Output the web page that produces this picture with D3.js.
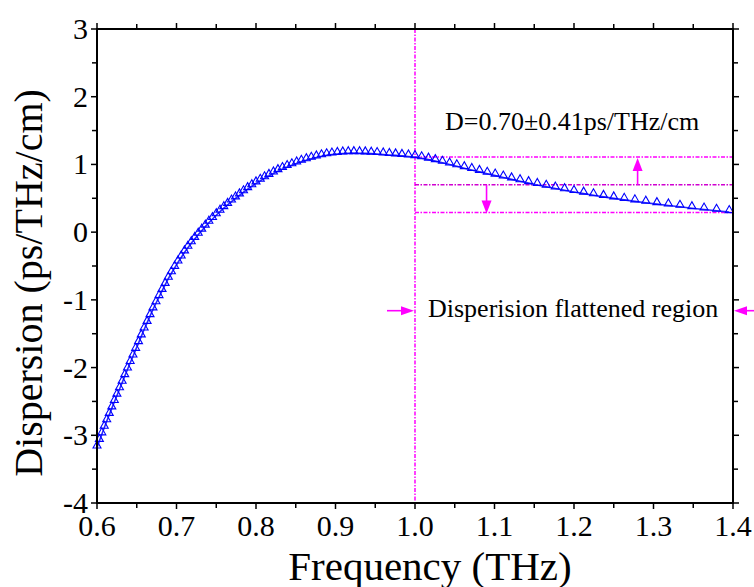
<!DOCTYPE html>
<html>
<head>
<meta charset="utf-8">
<script src="https://cdn.jsdelivr.net/npm/d3@7"></script>
<style>
  body { margin: 0; background: white; }
</style>
</head>
<body>
<script>
// frequency (THz) of every marker
let freq = [0.6000, 0.6030, 0.6061, 0.6091, 0.6122, 0.6154, 0.6186, 0.6218, 0.6250, 0.6283,
            0.6316, 0.6349, 0.6383, 0.6417, 0.6452, 0.6486, 0.6522, 0.6557, 0.6593, 0.6630,
            0.6667, 0.6704, 0.6742, 0.6780, 0.6818, 0.6857, 0.6897, 0.6936, 0.6977, 0.7018,
            0.7059, 0.7101, 0.7143, 0.7186, 0.7229, 0.7273, 0.7317, 0.7362, 0.7407, 0.7453,
            0.7500, 0.7547, 0.7595, 0.7643, 0.7692, 0.7742, 0.7792, 0.7843, 0.7895, 0.7947,
            0.8000, 0.8054, 0.8108, 0.8163, 0.8219, 0.8276, 0.8333, 0.8392, 0.8451, 0.8511,
            0.8571, 0.8633, 0.8696, 0.8759, 0.8824, 0.8889, 0.8955, 0.9023, 0.9091, 0.9160,
            0.9231, 0.9302, 0.9375, 0.9449, 0.9524, 0.9600, 0.9677, 0.9756, 0.9836, 0.9917,
            1.0000, 1.0084, 1.0170, 1.0256, 1.0345, 1.0435, 1.0526, 1.0620, 1.0714, 1.0811,
            1.0909, 1.1009, 1.1111, 1.1215, 1.1321, 1.1429, 1.1538, 1.1651, 1.1765, 1.1881,
            1.2000, 1.2121, 1.2245, 1.2371, 1.2500, 1.2632, 1.2766, 1.2903, 1.3043, 1.3187,
            1.3333, 1.3483, 1.3636, 1.3793, 1.3953];
// dispersion (ps/THz/cm)
let dispersion = [-3.180, -3.083, -2.986, -2.888, -2.793, -2.699, -2.603, -2.509, -2.415, -2.320,
                  -2.224, -2.127, -2.029, -1.932, -1.836, -1.738, -1.639, -1.539, -1.438, -1.340,
                  -1.240, -1.141, -1.050, -0.959, -0.868, -0.779, -0.688, -0.607, -0.527, -0.448,
                  -0.374, -0.299, -0.231, -0.163, -0.100, -0.038, 0.022, 0.081, 0.139, 0.194,
                  0.250, 0.302, 0.354, 0.403, 0.452, 0.498, 0.543, 0.589, 0.635, 0.678,
                  0.720, 0.758, 0.795, 0.831, 0.867, 0.901, 0.932, 0.961, 0.988, 1.014,
                  1.039, 1.062, 1.083, 1.103, 1.120, 1.135, 1.146, 1.155, 1.162, 1.166,
                  1.167, 1.166, 1.163, 1.159, 1.153, 1.147, 1.140, 1.134, 1.126, 1.118,
                  1.108, 1.091, 1.071, 1.049, 1.024, 0.999, 0.972, 0.945, 0.918, 0.890,
                  0.862, 0.835, 0.807, 0.779, 0.752, 0.724, 0.697, 0.670, 0.644, 0.619,
                  0.593, 0.569, 0.545, 0.521, 0.499, 0.477, 0.455, 0.435, 0.414, 0.394,
                  0.374, 0.354, 0.334, 0.315, 0.296];

let xTicks = [0.6, 0.7, 0.8, 0.9, 1.0, 1.1, 1.2, 1.3, 1.4];
let xTickLabels = ["0.6", "0.7", "0.8", "0.9", "1.0", "1.1", "1.2", "1.3", "1.4"];
let yTicks = [-4, -3, -2, -1, 0, 1, 2, 3];

// flattened region annotation
let flatRange = [1.0, 1.4];
let dMean = 0.70, dDelta = 0.41;
let upArrowFreq = 1.28, downArrowFreq = 1.09;
let regionArrowD = -1.16;

let W = 754, H = 587;
let margin = {left: 97, top: 29, right: 21, bottom: 84};
let serif = "'Liberation Serif', 'Times New Roman', Times, serif";

let svg = d3.select("body").append("svg")
    .attr("width", W)
    .attr("height", H)
    .attr("font-family", serif);

let x = d3.scaleLinear().domain([0.6, 1.4]).range([margin.left, W - margin.right]);
let y = d3.scaleLinear().domain([-4, 3]).range([H - margin.bottom, margin.top]);

let minorX = d3.range(0.6, 1.4001, 0.05).filter(v => Math.abs(v * 10 - Math.round(v * 10)) > 0.01);
let minorY = d3.range(-3.5, 3, 1);

let pink = "#ff00ff";
let dash = "4,1.5,1.5,1.5";

// magenta guides (1.5px so the colour survives)
svg.append("line")
    .attr("x1", x(flatRange[0])).attr("x2", x(flatRange[0]))
    .attr("y1", y(3)).attr("y2", y(-4))
    .attr("stroke", pink).attr("stroke-width", 1.5).attr("stroke-dasharray", dash);

svg.selectAll(".guide")
    .data([dMean + dDelta, dMean, dMean - dDelta])
    .enter()
    .append("line")
    .attr("class", "guide")
    .attr("x1", x(flatRange[0])).attr("x2", x(flatRange[1]))
    .attr("y1", d => y(d)).attr("y2", d => y(d))
    .attr("stroke", (d, i) => i == 1 ? "#d000d0" : pink)
    .attr("stroke-width", 1.5).attr("stroke-dasharray", dash);

// arrows with filled heads, tip given in pixels
function vArrow(px, fromY, tipY) {
    let dir = tipY < fromY ? 1 : -1;
    svg.append("line")
        .attr("x1", px).attr("x2", px).attr("y1", fromY).attr("y2", tipY + dir * 10)
        .attr("stroke", pink).attr("stroke-width", 1.6);
    svg.append("path")
        .attr("d", `M${px},${tipY} L${px - 5},${tipY + dir * 13} L${px + 5},${tipY + dir * 13} Z`)
        .attr("fill", pink);
}
function hArrow(fromX, tipX, py) {
    let dir = tipX < fromX ? 1 : -1;
    svg.append("line")
        .attr("x1", fromX).attr("x2", tipX + dir * 10).attr("y1", py).attr("y2", py)
        .attr("stroke", pink).attr("stroke-width", 1.6);
    svg.append("path")
        .attr("d", `M${tipX},${py} L${tipX + dir * 13},${py - 4.5} L${tipX + dir * 13},${py + 4.5} Z`)
        .attr("fill", pink);
}
vArrow(x(upArrowFreq), y(dMean), y(dMean + dDelta) + 1);
vArrow(x(downArrowFreq), y(dMean), y(dMean - dDelta) + 1);
hArrow(x(flatRange[0]) - 28, x(flatRange[0]) - 1, y(regionArrowD));
hArrow(W + 2, x(flatRange[1]) + 1, y(regionArrowD));

// data: blue line with open triangles sitting on it
let pts = freq.map((f, i) => [f, dispersion[i]]);
svg.append("path")
    .datum(pts)
    .attr("d", d3.line().x(d => x(d[0])).y(d => y(d[1])))
    .attr("fill", "none")
    .attr("stroke", "#2a2aff")
    .attr("stroke-width", 1.6);

svg.selectAll(".tri")
    .data(pts)
    .enter()
    .append("path")
    .attr("class", "tri")
    .attr("d", d => {
        let cx = x(d[0]), cy = y(d[1]);
        return `M${cx},${cy - 6.5} L${cx - 4},${cy + 0.5} L${cx + 4},${cy + 0.5} Z`;
    })
    .attr("fill", "none")
    .attr("stroke", "#0000ff")
    .attr("stroke-width", 1.1);

// axes (mirrored, ticks outward)
let axisG = svg.append("g").attr("stroke", "black");
let yBottom = y(-4), yTop = y(3), xLeft = x(0.6), xRight = x(1.4);

axisG.append("rect")
    .attr("x", xLeft).attr("y", yTop)
    .attr("width", xRight - xLeft).attr("height", yBottom - yTop)
    .attr("fill", "none").attr("stroke-width", 2);

xTicks.concat(minorX).forEach((v, i) => {
    let len = i < xTicks.length ? 6 : 5;
    axisG.append("line").attr("x1", x(v)).attr("x2", x(v)).attr("y1", yBottom).attr("y2", yBottom + len).attr("stroke-width", 1.5);
    axisG.append("line").attr("x1", x(v)).attr("x2", x(v)).attr("y1", yTop).attr("y2", yTop - len).attr("stroke-width", 1.5);
});
yTicks.concat(minorY).forEach((v, i) => {
    let len = i < yTicks.length ? 6 : 5;
    axisG.append("line").attr("x1", xLeft).attr("x2", xLeft - len).attr("y1", y(v)).attr("y2", y(v)).attr("stroke-width", 1.5);
    axisG.append("line").attr("x1", xRight).attr("x2", xRight + len).attr("y1", y(v)).attr("y2", y(v)).attr("stroke-width", 1.5);
});

svg.selectAll(".xlab")
    .data(xTicks)
    .enter()
    .append("text")
    .attr("class", "xlab")
    .attr("x", d => x(d))
    .attr("y", yBottom + 33)
    .attr("text-anchor", "middle")
    .attr("font-size", 30)
    .text((d, i) => xTickLabels[i]);

svg.selectAll(".ylab")
    .data(yTicks)
    .enter()
    .append("text")
    .attr("class", "ylab")
    .attr("x", xLeft - 9)
    .attr("y", d => y(d) + 10)
    .attr("text-anchor", "end")
    .attr("font-size", 30)
    .text(d => d);

svg.append("text")
    .attr("x", 430).attr("y", 580)
    .attr("text-anchor", "middle")
    .attr("font-size", 41)
    .text("Frequency (THz)");

svg.append("text")
    .attr("transform", "translate(42,283) rotate(-90)")
    .attr("text-anchor", "middle")
    .attr("font-size", 40)
    .text("Dispersion (ps/THz/cm)");

svg.append("text")
    .attr("x", 445).attr("y", 130)
    .attr("font-size", 26)
    .text("D=0.70\u00b10.41ps/THz/cm");

svg.append("text")
    .attr("x", 428).attr("y", 317)
    .attr("font-size", 26)
    .text("Disperision flattened region");
</script>
</body>
</html>
